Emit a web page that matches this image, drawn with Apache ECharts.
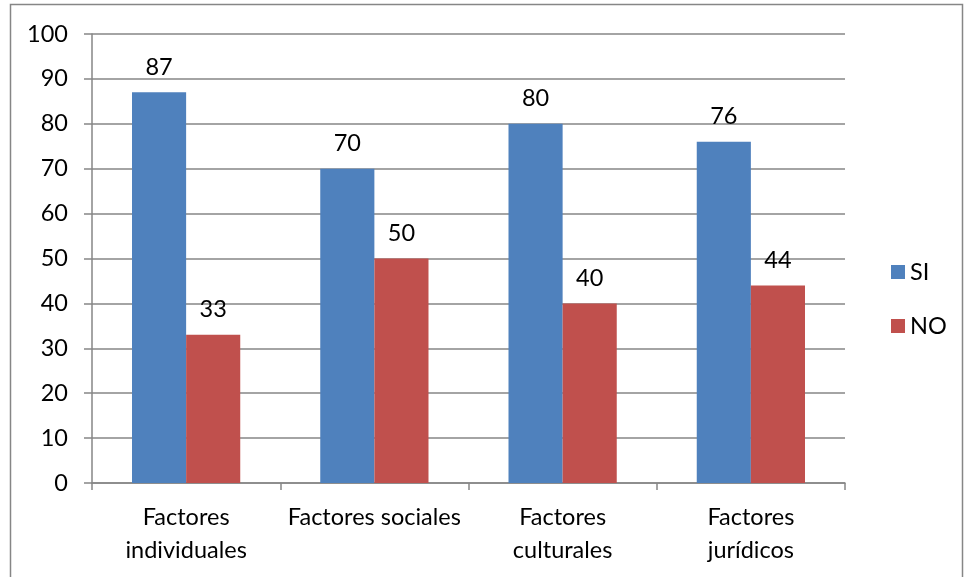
<!DOCTYPE html>
<html><head><meta charset="utf-8">
<script src="https://cdn.jsdelivr.net/npm/echarts@6/dist/echarts.min.js"></script>
<style>html,body{margin:0;padding:0;background:#fff}#c{width:965px;height:577px}</style>
</head><body><div id="c"></div>
<script>
const categories = ["Factores\nindividuales", "Factores sociales", "Factores\nculturales", "Factores\njurídicos"];
const siValues = [87, 70, 80, 76];
const noValues = [33, 50, 40, 44];
const yTicks = {min: 0, max: 100, interval: 10};

const font = "Lato, Carlito, Calibri, sans-serif";
const fs = 23.5;
const chart = echarts.init(document.getElementById('c'));
const labelCfg = {show: true, position: 'top', distance: 13, color: '#000', fontSize: fs, fontFamily: font};
chart.setOption({
  animation: false,
  textStyle: {fontFamily: font},
  graphic: [{type: 'rect', shape: {x: 10.5, y: 4.5, width: 952, height: 580}, style: {fill: 'none', stroke: '#868686', lineWidth: 1.5}, silent: true}],
  grid: {left: 92, right: 120, top: 34, bottom: 94},
  legend: {
    orient: 'vertical', left: 886, top: 255, itemWidth: 14, itemHeight: 14, itemGap: 30,
    icon: 'rect',
    textStyle: {fontSize: fs, fontFamily: font, color: '#000'},
    data: ['SI', 'NO']
  },
  xAxis: {
    type: 'category', data: categories,
    axisLine: {lineStyle: {color: '#868686', width: 1.5}},
    axisTick: {show: true, length: 7, alignWithLabel: false, lineStyle: {color: '#868686', width: 1.5}},
    axisLabel: {fontSize: fs, fontFamily: font, color: '#000', margin: 18, lineHeight: 33, interval: 0}
  },
  yAxis: {
    type: 'value', min: yTicks.min, max: yTicks.max, interval: yTicks.interval,
    axisLine: {show: true, lineStyle: {color: '#868686', width: 1.5}},
    axisTick: {show: true, length: 8, lineStyle: {color: '#868686', width: 1.5}},
    splitLine: {lineStyle: {color: '#868686', width: 1.5}},
    axisLabel: {fontSize: fs, fontFamily: font, color: '#000', margin: 24}
  },
  series: [
    {name: 'SI', type: 'bar', data: siValues, barGap: '0%', barCategoryGap: '42.5%', itemStyle: {color: '#4F81BD'}, label: labelCfg},
    {name: 'NO', type: 'bar', data: noValues, itemStyle: {color: '#C0504D'}, label: labelCfg}
  ]
});
</script></body></html>
